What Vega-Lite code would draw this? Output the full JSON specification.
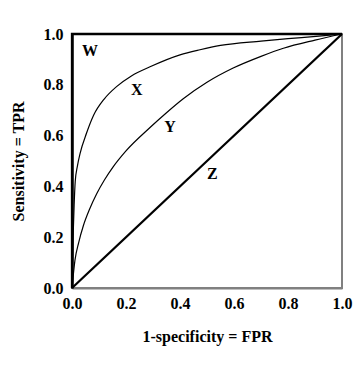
{
  "$schema": "https://vega.github.io/schema/vega-lite/v6.json",
  "width": 270,
  "height": 254,
  "autosize": "none",
  "padding": {"left": 72, "top": 34, "right": 18, "bottom": 77},
  "background": "white",
  "config": {
    "view": {"stroke": "#808080", "strokeWidth": 2},
    "font": "Liberation Serif"
  },
  "datasets": {
    "curves": [
      {"curve": "W", "fpr": 0, "tpr": 0, "o": 0},
      {"curve": "W", "fpr": 0, "tpr": 1, "o": 1},
      {"curve": "W", "fpr": 1, "tpr": 1, "o": 2},
      {"curve": "Z", "fpr": 0, "tpr": 0, "o": 0},
      {"curve": "Z", "fpr": 1, "tpr": 1, "o": 1},
      {"curve": "X", "fpr": 0, "tpr": 0, "o": 0},
      {"curve": "X", "fpr": 0.004, "tpr": 0.2, "o": 1},
      {"curve": "X", "fpr": 0.008, "tpr": 0.33, "o": 2},
      {"curve": "X", "fpr": 0.012, "tpr": 0.42, "o": 3},
      {"curve": "X", "fpr": 0.02, "tpr": 0.48, "o": 4},
      {"curve": "X", "fpr": 0.03, "tpr": 0.53, "o": 5},
      {"curve": "X", "fpr": 0.054, "tpr": 0.61, "o": 6},
      {"curve": "X", "fpr": 0.08, "tpr": 0.68, "o": 7},
      {"curve": "X", "fpr": 0.12, "tpr": 0.745, "o": 8},
      {"curve": "X", "fpr": 0.165, "tpr": 0.793, "o": 9},
      {"curve": "X", "fpr": 0.22, "tpr": 0.835, "o": 10},
      {"curve": "X", "fpr": 0.289, "tpr": 0.871, "o": 11},
      {"curve": "X", "fpr": 0.4, "tpr": 0.918, "o": 12},
      {"curve": "X", "fpr": 0.474, "tpr": 0.938, "o": 13},
      {"curve": "X", "fpr": 0.55, "tpr": 0.955, "o": 14},
      {"curve": "X", "fpr": 0.7, "tpr": 0.972, "o": 15},
      {"curve": "X", "fpr": 0.85, "tpr": 0.986, "o": 16},
      {"curve": "X", "fpr": 1, "tpr": 1, "o": 17},
      {"curve": "Y", "fpr": 0, "tpr": 0, "o": 0},
      {"curve": "Y", "fpr": 0.011, "tpr": 0.11, "o": 1},
      {"curve": "Y", "fpr": 0.025, "tpr": 0.18, "o": 2},
      {"curve": "Y", "fpr": 0.042, "tpr": 0.245, "o": 3},
      {"curve": "Y", "fpr": 0.065, "tpr": 0.31, "o": 4},
      {"curve": "Y", "fpr": 0.091, "tpr": 0.37, "o": 5},
      {"curve": "Y", "fpr": 0.12, "tpr": 0.425, "o": 6},
      {"curve": "Y", "fpr": 0.153, "tpr": 0.478, "o": 7},
      {"curve": "Y", "fpr": 0.2, "tpr": 0.54, "o": 8},
      {"curve": "Y", "fpr": 0.289, "tpr": 0.632, "o": 9},
      {"curve": "Y", "fpr": 0.35, "tpr": 0.69, "o": 10},
      {"curve": "Y", "fpr": 0.412, "tpr": 0.745, "o": 11},
      {"curve": "Y", "fpr": 0.5, "tpr": 0.81, "o": 12},
      {"curve": "Y", "fpr": 0.597, "tpr": 0.866, "o": 13},
      {"curve": "Y", "fpr": 0.7, "tpr": 0.912, "o": 14},
      {"curve": "Y", "fpr": 0.783, "tpr": 0.944, "o": 15},
      {"curve": "Y", "fpr": 0.9, "tpr": 0.976, "o": 16},
      {"curve": "Y", "fpr": 1, "tpr": 1, "o": 17}
    ],
    "labels": [
      {"label": "W", "fpr": 0.067, "tpr": 0.935},
      {"label": "X", "fpr": 0.24, "tpr": 0.78},
      {"label": "Y", "fpr": 0.363, "tpr": 0.633},
      {"label": "Z", "fpr": 0.52, "tpr": 0.447}
    ]
  },
  "layer": [
    {
      "data": {"name": "curves"},
      "transform": [{"filter": "datum.curve === 'X' || datum.curve === 'Y'"}],
      "mark": {"type": "line", "color": "black", "strokeWidth": 1.2, "interpolate": "monotone"},
      "encoding": {
        "x": {"field": "fpr", "type": "quantitative", "scale": {"domain": [0, 1], "nice": false},
          "axis": {"title": "1-specificity = FPR", "values": [0, 0.2, 0.4, 0.6, 0.8, 1], "format": ".1f", "grid": false, "ticks": false,
            "domainColor": "#808080", "domainWidth": 2, "labelFont": "Liberation Serif", "labelFontWeight": "bold", "labelFontSize": 16,
            "labelColor": "black", "labelPadding": 7, "labelFlush": false, "titleFont": "Liberation Serif", "titleFontWeight": "bold",
            "titleFontSize": 16, "titleColor": "black", "titlePadding": 17}},
        "y": {"field": "tpr", "type": "quantitative", "scale": {"domain": [0, 1], "nice": false},
          "axis": {"title": "Sensitivity = TPR", "values": [0, 0.2, 0.4, 0.6, 0.8, 1], "format": ".1f", "grid": false, "ticks": false,
            "domainColor": "black", "domainWidth": 2.5, "labelFont": "Liberation Serif", "labelFontWeight": "bold", "labelFontSize": 16,
            "labelColor": "black", "labelPadding": 9, "labelFlush": false, "titleFont": "Liberation Serif", "titleFontWeight": "bold",
            "titleFontSize": 16, "titleColor": "black", "titlePadding": 17}},
        "detail": {"field": "curve"},
        "order": {"field": "o", "type": "quantitative"}
      }
    },
    {
      "data": {"name": "curves"},
      "transform": [{"filter": "datum.curve === 'Z' || datum.curve === 'W'"}],
      "mark": {"type": "line", "color": "black", "strokeWidth": 2.3},
      "encoding": {
        "x": {"field": "fpr", "type": "quantitative"},
        "y": {"field": "tpr", "type": "quantitative"},
        "detail": {"field": "curve"},
        "order": {"field": "o", "type": "quantitative"}
      }
    },
    {
      "data": {"name": "labels"},
      "mark": {"type": "text", "font": "Liberation Serif", "fontWeight": "bold", "fontSize": 16, "color": "black"},
      "encoding": {
        "x": {"field": "fpr", "type": "quantitative"},
        "y": {"field": "tpr", "type": "quantitative"},
        "text": {"field": "label"}
      }
    }
  ]
}
